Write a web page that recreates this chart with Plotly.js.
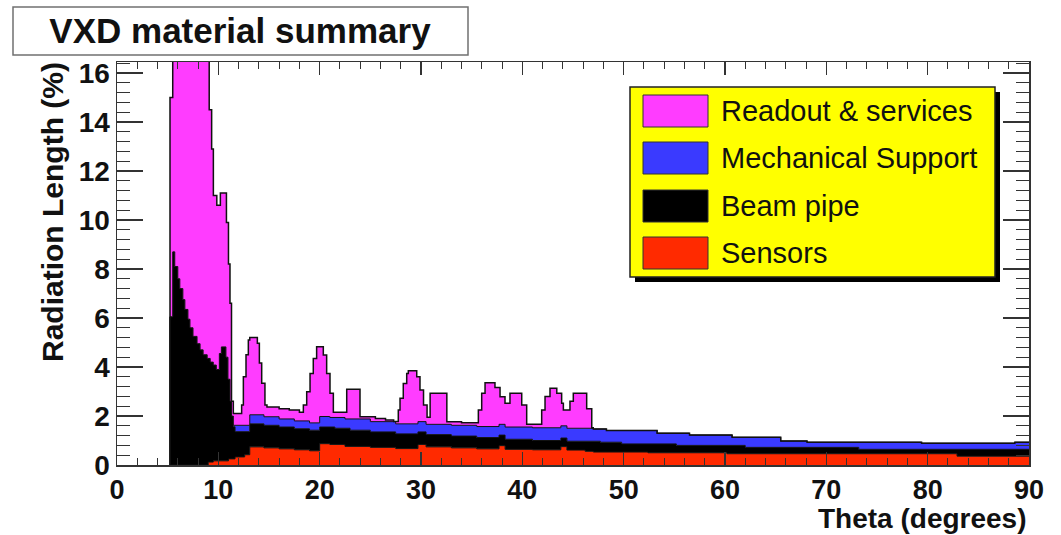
<!DOCTYPE html>
<html>
<head>
<meta charset="utf-8">
<script src="https://cdn.plot.ly/plotly-3.0.1.min.js"></script>
<style>
  html, body { margin: 0; padding: 0; background: #ffffff; }
  #chart { width: 1061px; height: 535px; }
</style>
</head>
<body>
<div id="chart"></div>
<script>
// ---- Data (upper edge of each stacked layer, % X0, step histogram) ----
const seriesNames = ["Sensors", "Beam pipe", "Mechanical Support", "Readout & services"];
const legendOrder = ["Readout & services", "Mechanical Support", "Beam pipe", "Sensors"];

const thetaSensors = [5.23, 9.0, 9.5, 11.0, 11.65, 12.6, 13.1, 14.5, 16.0, 17.5, 19.0, 20.0, 21.0, 22.5, 25.0, 27.5, 29.7, 30.5, 33.0, 35.5, 37.7, 38.3, 41.0, 43.8, 44.4, 46.2, 47.0, 52.4, 60.2, 82.9, 90];
const topSensors   = [0, 0.12, 0.17, 0.25, 0.33, 0.42, 0.74, 0.70, 0.66, 0.62, 0.58, 0.87, 0.84, 0.76, 0.72, 0.67, 0.84, 0.74, 0.70, 0.66, 0.79, 0.64, 0.62, 0.75, 0.61, 0.56, 0.53, 0.50, 0.46, 0.36, 0.36];

const thetaBeam = [5.23, 5.23, 5.5, 5.7, 6.0, 6.2, 6.5, 6.7, 7.0, 7.2, 7.5, 7.9, 8.2, 8.5, 8.9, 9.2, 9.5, 9.8, 10.1, 10.3, 10.75, 10.95, 11.15, 11.3, 11.48, 11.65, 13.1, 14.5, 16.0, 17.5, 19.0, 20.0, 21.5, 23.0, 25.0, 27.5, 29.7, 30.5, 33.0, 35.5, 37.7, 38.3, 41.0, 43.8, 44.4, 47.7, 49.8, 55.2, 62.0, 73.2, 90];
const topBeam   = [0, 6.05, 8.7, 8.1, 7.6, 7.2, 6.75, 6.35, 5.95, 5.6, 5.25, 4.95, 4.7, 4.5, 4.35, 4.2, 4.08, 3.9, 4.55, 4.82, 4.4, 3.5, 2.6, 2.0, 1.56, 1.36, 1.68, 1.62, 1.55, 1.48, 1.42, 1.55, 1.5, 1.42, 1.35, 1.27, 1.35, 1.24, 1.18, 1.12, 1.22, 1.05, 1.0, 1.1, 0.97, 0.93, 0.86, 0.8, 0.72, 0.64, 0.64];

const thetaMech = [5.23, 5.23, 5.5, 5.7, 6.0, 6.2, 6.5, 6.7, 7.0, 7.2, 7.5, 7.9, 8.2, 8.5, 8.9, 9.2, 9.5, 9.8, 10.1, 10.3, 10.75, 10.95, 11.15, 11.3, 11.48, 13.1, 14.5, 16.0, 17.5, 19.0, 20.0, 21.0, 22.5, 25.0, 27.5, 29.7, 30.5, 33.0, 35.5, 37.7, 38.3, 41.0, 43.8, 44.4, 47.0, 48.3, 53.3, 56.5, 60.7, 65.5, 68.1, 79.4, 88.6, 90];
const topMech   = [0, 6.05, 8.7, 8.1, 7.6, 7.2, 6.75, 6.35, 5.95, 5.6, 5.25, 4.95, 4.7, 4.5, 4.35, 4.2, 4.08, 3.9, 4.55, 4.82, 4.4, 3.5, 2.6, 2.0, 1.62, 2.05, 1.97, 1.88, 1.8, 1.72, 1.98, 1.94, 1.88, 1.77, 1.68, 1.77, 1.66, 1.62, 1.57, 1.66, 1.55, 1.52, 1.6, 1.5, 1.47, 1.41, 1.30, 1.22, 1.13, 0.98, 0.93, 0.89, 0.93, 0.93];

const thetaReadout = [5.23, 5.23, 5.5, 9.1, 9.34, 9.51, 9.85, 10.2, 10.8, 11.0, 11.15, 11.3, 11.48, 12.3, 12.47, 12.73, 12.96, 13.1, 13.85, 14.05, 14.28, 14.6, 14.8, 16.0, 17.0, 18.0, 18.39, 18.72, 19.05, 19.37, 19.7, 20.36, 20.69, 21.02, 21.35, 22.67, 23.98, 25.5, 26.5, 27.3, 27.76, 27.93, 28.25, 28.59, 28.75, 29.58, 29.9, 30.25, 30.6, 30.9, 32.55, 34.0, 35.66, 35.99, 36.32, 37.3, 37.8, 38.29, 38.78, 39.94, 40.43, 41.91, 42.24, 42.73, 43.4, 43.88, 44.05, 44.7, 45.03, 46.35, 46.85, 47.0, 48.3, 53.3, 56.5, 60.7, 65.5, 68.1, 79.4, 88.6, 90];
const topReadout   = [0, 15.0, 17.5, 14.5, 12.9, 11.0, 10.6, 11.1, 9.9, 8.2, 6.6, 2.6, 2.1, 2.45, 3.6, 4.5, 5.1, 5.2, 4.97, 4.16, 3.34, 2.45, 2.37, 2.3, 2.25, 2.15, 2.45, 2.99, 3.74, 4.35, 4.83, 4.49, 3.74, 2.93, 2.15, 3.09, 1.97, 1.9, 1.84, 1.78, 2.24, 2.72, 3.33, 3.74, 3.85, 3.6, 3.06, 2.45, 1.95, 2.93, 1.77, 1.72, 2.24, 2.93, 3.36, 3.16, 2.79, 2.52, 2.93, 2.45, 1.66, 2.24, 2.8, 3.13, 2.93, 2.52, 2.24, 2.6, 2.93, 2.3, 1.52, 1.47, 1.41, 1.30, 1.22, 1.13, 0.98, 0.93, 0.89, 0.93, 0.93];

const xTickVals = [0, 10, 20, 30, 40, 50, 60, 70, 80, 90];
const yTickVals = [0, 2, 4, 6, 8, 10, 12, 14, 16];

// ---- Styling ----
const FONT = "Liberation Sans, Arial, Helvetica, sans-serif";
const colors = {
  "Sensors": "#ff2a00",
  "Beam pipe": "#000000",
  "Mechanical Support": "#3a3aff",
  "Readout & services": "#ff3cff"
};

const xs = [thetaSensors, thetaBeam, thetaMech, thetaReadout];
const ys = [topSensors, topBeam, topMech, topReadout];

const traces = seriesNames.map((name, i) => ({
  type: "scatter",
  mode: "lines",
  name: name,
  x: xs[i],
  y: ys[i],
  line: { shape: "hv", color: "#111111", width: i === 3 ? 1.5 : 1 },
  fill: i === 0 ? "tozeroy" : "tonexty",
  fillcolor: colors[name],
  showlegend: false,
  hoverinfo: "skip"
}));

// plot area in pixels: left 117, top 62, width 912, height 403
const PL = 117, PT = 62, PW = 912, PH = 403;
const fx = px => (px - PL) / PW;
const fy = py => (PT + PH - py) / PH;

const shapes = [
  // title box
  { type: "rect", xref: "paper", yref: "paper", x0: fx(13), x1: fx(468), y0: fy(55), y1: fy(7),
    fillcolor: "#ffffff", line: { color: "#707070", width: 1.5 } },
  // legend shadow
  { type: "rect", xref: "paper", yref: "paper", x0: fx(635), x1: fx(1000), y0: fy(282), y1: fy(92),
    fillcolor: "#000000", line: { width: 0 } },
  // legend box
  { type: "rect", xref: "paper", yref: "paper", x0: fx(630), x1: fx(995), y0: fy(277), y1: fy(87),
    fillcolor: "#ffff00", line: { color: "#222222", width: 1.5 } }
];
const rowCenters = [111, 158, 206, 253];
const annotations = [];
legendOrder.forEach((name, k) => {
  const c = rowCenters[k];
  shapes.push({ type: "rect", xref: "paper", yref: "paper", x0: fx(643), x1: fx(708), y0: fy(c + 16), y1: fy(c - 16),
    fillcolor: colors[name], line: { color: "#333333", width: 1 } });
  annotations.push({ xref: "paper", yref: "paper", x: fx(719), y: fy(c), xanchor: "left", yanchor: "middle",
    text: name, showarrow: false, font: { family: FONT, size: 29, color: "#111111" } });
});
annotations.push({ xref: "paper", yref: "paper", x: fx(53), y: fy(212), xanchor: "center", yanchor: "middle",
  textangle: -90, text: "Radiation Length (%)", showarrow: false,
  font: { family: FONT, size: 30, color: "#111111", weight: "bold" } });
annotations.push({ xref: "paper", yref: "paper", x: fx(1029), y: fy(518), xanchor: "right", yanchor: "middle",
  text: "Theta (degrees)", showarrow: false,
  font: { family: FONT, size: 28, color: "#111111", weight: "bold" } });

const layout = {
  width: 1061, height: 535,
  margin: { l: PL, r: 1061 - PL - PW, t: PT, b: 535 - PT - PH, pad: 0 },
  paper_bgcolor: "#ffffff", plot_bgcolor: "#ffffff",
  showlegend: false,
  hovermode: false,
  title: { text: "VXD material summary", xref: "paper", x: fx(240), xanchor: "center",
    yref: "container", y: 1 - 31 / 535, yanchor: "middle",
    font: { family: FONT, size: 35, color: "#111111", weight: "bold" } },
  xaxis: {
    range: [0, 90], tickvals: xTickVals, ticktext: xTickVals.map(String),
    ticks: "inside", ticklen: 13, tickwidth: 1.5, tickcolor: "#333333",
    minor: { dtick: 2, tick0: 0, ticks: "inside", ticklen: 7, tickwidth: 1, tickcolor: "#333333" },
    showline: true, linecolor: "#333333", linewidth: 1.5, mirror: "ticks",
    showgrid: false, zeroline: false,
    tickfont: { family: FONT, size: 27, color: "#111111", weight: "bold" }
  },
  yaxis: {
    range: [0, 16.45], tickvals: yTickVals, ticktext: yTickVals.map(String),
    ticks: "inside", ticklen: 26, tickwidth: 1.5, tickcolor: "#333333",
    minor: { dtick: 0.4, tick0: 0, ticks: "inside", ticklen: 13, tickwidth: 1, tickcolor: "#333333" },
    showline: true, linecolor: "#333333", linewidth: 1.5, mirror: "ticks",
    showgrid: false, zeroline: false,
    tickfont: { family: FONT, size: 28, color: "#111111", weight: "bold" }
  },
  shapes: shapes,
  annotations: annotations
};

Plotly.newPlot("chart", traces, layout, { displayModeBar: false, staticPlot: true });
</script>
</body>
</html>
